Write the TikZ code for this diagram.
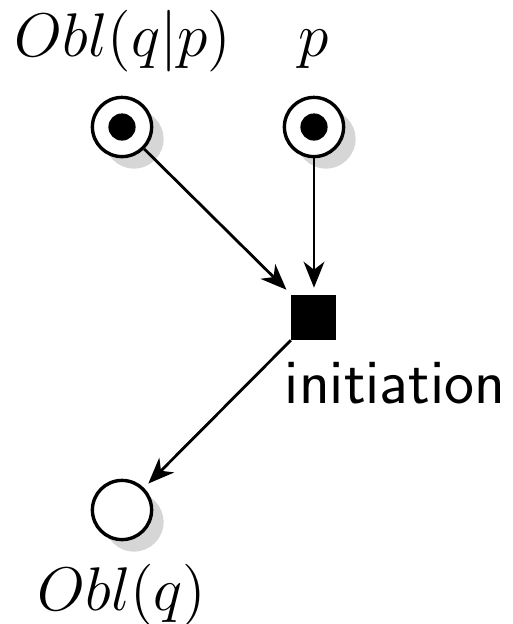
\documentclass[tikz,border=0pt]{standalone}
\usepackage{graphicx}
\usepackage{fontspec}
\usetikzlibrary{arrows.meta,shadows}
\newcommand{\biglab}[1]{\scalebox{1.07}{\fontsize{14.4}{17}\selectfont$#1$}}
\tikzset{
  px/.style={x=0.25pt,y=-0.25pt},
  place/.style={circle,draw=black,line width=0.85pt,fill=white,minimum size=14.8pt,inner sep=0pt,
    drop shadow={shadow xshift=3pt,shadow yshift=-3pt,fill=black!16,opacity=1}},
  marked/.style={place,path picture={\fill[black] (path picture bounding box.center) circle (3.4pt);}},
  transition/.style={rectangle,fill=black,minimum size=11.25pt,inner sep=0pt},
  arc/.style={-{Stealth[length=6.5pt,width=5.2pt,inset=2pt]},line width=0.7pt,shorten >=1.5pt},
  mathlabel/.style={anchor=base,inner sep=0pt},
  textlabel/.style={anchor=base,inner sep=0pt,font=\fontsize{15.9}{19}\selectfont\sffamily}
}
\begin{document}
\begin{tikzpicture}[px]
\useasboundingbox (0,0) rectangle (513,624);
\node[marked] (oblqp) at (122,127) {};
\node[marked] (p) at (314,127) {};
\node[transition] (init) at (314,317) {};
\node[place] (oblq) at (122,510) {};
\node[mathlabel] (loblqp) at (123,56) {\biglab{Obl(q|p)}};
\node[mathlabel] (lp) at (314,56) {\biglab{p}};
\node[textlabel] (linit) at (395,403) {initiation};
\node[mathlabel] (loblq) at (122,610) {\biglab{Obl(q)}};
\draw[arc] (oblqp) -- (init);
\draw[arc] (p) -- (init);
\draw[arc] (init) -- (oblq);
\end{tikzpicture}
\end{document}
